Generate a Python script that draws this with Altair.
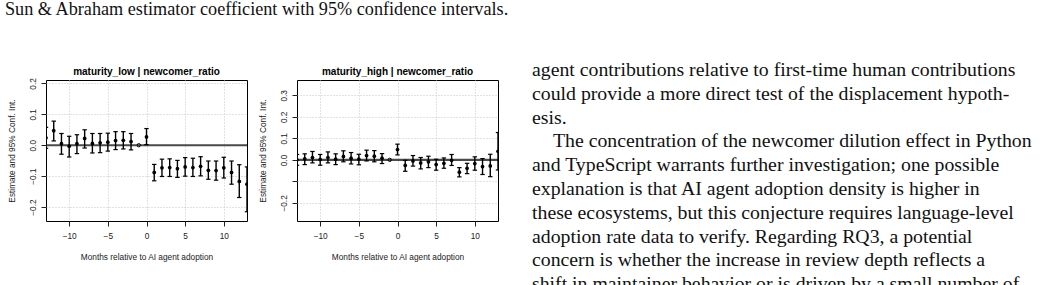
import altair as alt
import pandas as pd

# ---------------- data ----------------
months = [-13, -12, -11, -10, -9, -8, -7, -6, -5, -4, -3, -2,
          0, 1, 2, 3, 4, 5, 6, 7, 8, 9, 10, 11, 12, 13]
ref_month = -1
x_ticks = [-10, -5, 0, 5, 10]

low_est = [0.024, 0.047, 0.005, -0.003, 0.005, 0.022, 0.006, 0.008, 0.010, 0.015, 0.016, 0.012,
           0.027, -0.088, -0.073, -0.072, -0.076, -0.070, -0.072, -0.068, -0.081, -0.082, -0.073, -0.088, -0.117, -0.126]
low_lo = [-0.010, 0.014, -0.029, -0.038, -0.027, -0.009, -0.025, -0.024, -0.019, -0.014, -0.012, -0.015,
          0.002, -0.115, -0.101, -0.101, -0.104, -0.100, -0.101, -0.099, -0.110, -0.113, -0.106, -0.126, -0.169, -0.215]
low_hi = [0.058, 0.078, 0.038, 0.029, 0.034, 0.050, 0.038, 0.038, 0.039, 0.044, 0.044, 0.038,
          0.054, -0.062, -0.045, -0.044, -0.049, -0.040, -0.042, -0.037, -0.051, -0.051, -0.039, -0.051, -0.063, -0.070]

high_est = [0.000, 0.005, 0.011, 0.002, 0.011, 0.003, 0.016, 0.008, 0.003, 0.020, 0.017, 0.008,
            0.048, -0.026, -0.005, -0.014, -0.009, -0.022, -0.016, -0.002, -0.057, -0.039, -0.017, -0.031, -0.028, 0.040]
high_lo = [-0.025, -0.022, -0.014, -0.025, -0.014, -0.022, -0.009, -0.019, -0.023, -0.005, -0.009, -0.017,
           0.023, -0.053, -0.029, -0.042, -0.036, -0.048, -0.039, -0.026, -0.079, -0.064, -0.048, -0.068, -0.078, -0.047]
high_hi = [0.025, 0.028, 0.039, 0.025, 0.037, 0.028, 0.042, 0.034, 0.026, 0.045, 0.043, 0.029,
           0.073, -0.002, 0.020, 0.011, 0.017, 0.003, 0.009, 0.025, -0.036, -0.016, 0.014, 0.006, 0.026, 0.127]

low_yticks = [-0.2, -0.1, 0.0, 0.1, 0.2]
high_yticks = [-0.2, -0.1, 0.0, 0.1, 0.2, 0.3]
low_ydomain = [-0.245, 0.211]
high_ydomain = [-0.284, 0.371]

low_title = "maturity_low | newcomer_ratio"
high_title = "maturity_high | newcomer_ratio"
x_title = "Months relative to AI agent adoption"
y_title = "Estimate and 95% Conf. Int."

caption = "Sun & Abraham estimator coefficient with 95% confidence intervals."

body_lines = [
    "agent contributions relative to first-time human contributions",
    "could provide a more direct test of the displacement hypoth-",
    "esis.",
    "The concentration of the newcomer dilution effect in Python",
    "and TypeScript warrants further investigation; one possible",
    "explanation is that AI agent adoption density is higher in",
    "these ecosystems, but this conjecture requires language-level",
    "adoption rate data to verify. Regarding RQ3, a potential",
    "concern is whether the increase in review depth reflects a",
    "shift in maintainer behavior or is driven by a small number of",
]
para_start = [0, 0, 0, 1, 0, 0, 0, 0, 0, 0]

SANS = "Liberation Sans"
SERIF = "Liberation Serif"
INK = "#222222"


def panel(title, est, lo, hi, ydomain, yticks, hide_minus01, extra_layers):
    df = pd.DataFrame({"m": months, "est": est, "lo": lo, "hi": hi})
    ref = pd.DataFrame({"m": [ref_month], "est": [0.0]})
    zero = pd.DataFrame({"z": [0.0]})

    xs = alt.Scale(domain=[-13, 13], nice=False, zero=False)
    ys = alt.Scale(domain=ydomain, nice=False, zero=False)

    common = dict(grid=True, gridColor="#c4c4c4", gridDash=[1, 2], gridWidth=1,
                  domain=False, ticks=True, tickSize=5, tickColor=INK, tickWidth=1,
                  labelFont=SANS, labelFontSize=8.3, labelColor=INK,
                  labelFlush=False, labelOverlap=False,
                  titleFont=SANS, titleFontSize=8.3, titleFontWeight="normal", titleColor=INK)
    xax = alt.Axis(values=x_ticks, format="d", title=x_title, labelPadding=5,
                   titleY=31, titleBaseline="top", **common)
    ykw = dict(values=yticks, format=".1f", title=y_title, labelAngle=270, labelPadding=4,
               titleAngle=270, titleX=-34, titleY=70.5, titleAlign="center",
               titleBaseline="middle", **common)
    if hide_minus01:
        ykw["labelExpr"] = "abs(datum.value + 0.1) < 1e-6 ? '' : format(datum.value, '.1f')"
    yax = alt.Axis(**ykw)

    X = alt.X("m:Q", scale=xs, axis=xax)

    def Y(f):
        return alt.Y(f + ":Q", scale=ys, axis=yax)

    base = alt.Chart(df)
    zline = alt.Chart(zero).mark_rule(color="#4a4a4a", strokeWidth=2.2).encode(y=Y("z"))
    bars = base.mark_rule(color="black", strokeWidth=1.4, clip=True).encode(
        x=X, y=Y("lo"), y2="hi:Q")
    cap_lo = base.mark_rule(color="black", strokeWidth=1.2, clip=True, xOffset=-2.2, x2Offset=2.2).encode(
        x=X, x2="m:Q", y=Y("lo"))
    cap_hi = base.mark_rule(color="black", strokeWidth=1.2, clip=True, xOffset=-2.2, x2Offset=2.2).encode(
        x=X, x2="m:Q", y=Y("hi"))
    pts = base.mark_circle(color="black", size=14, opacity=1, clip=True).encode(x=X, y=Y("est"))
    refpt = alt.Chart(ref).mark_point(shape="circle", filled=False, color="black",
                                       size=11, strokeWidth=1, opacity=1).encode(x=X, y=Y("est"))
    ttl = alt.Chart(pd.DataFrame({"t": [title]})).mark_text(
        font=SANS, fontSize=10, fontWeight="bold", color="black",
        align="center", baseline="alphabetic").encode(
        text="t:N", x=alt.value(100.5), y=alt.value(-5))

    layers = [zline, bars, cap_lo, cap_hi, pts, refpt, ttl] + extra_layers
    return alt.layer(*layers).properties(width=201, height=141)


# caption sits above the left panel (outside its plot area)
cap = alt.Chart(pd.DataFrame({"t": [caption]})).mark_text(
    font=SERIF, fontSize=18.2, color="#111111", align="left", baseline="alphabetic").encode(
    text="t:N", x=alt.value(-41), y=alt.value(-65))

left = panel(low_title, low_est, low_lo, low_hi, low_ydomain, low_yticks, False, [cap])
right = panel(high_title, high_est, high_lo, high_hi, high_ydomain, high_yticks, True, [])

# ---------------- text column ----------------
txt_df = pd.DataFrame({"i": list(range(len(body_lines))), "t": body_lines, "ind": para_start})
line_y = alt.Scale(domain=[0, 9], range=[-4, 210.2])
ind_x = alt.Scale(domain=[0, 1], range=[-16, 5])

text_panel = alt.Chart(txt_df).mark_text(font=SERIF, fontSize=19.8, color="#111111",
                                         align="left", baseline="alphabetic").encode(
    x=alt.X("ind:Q", scale=ind_x, axis=None),
    y=alt.Y("i:Q", scale=line_y, axis=None),
    text="t:N").properties(width=484, height=141, view=alt.ViewBackground(stroke="transparent"))

chart = alt.hconcat(left, right, text_panel, spacing=50, bounds="flush").properties(
    padding={"left": 46, "top": 80, "right": 996, "bottom": 205},
    autosize=alt.AutoSizeParams(type="none"),
    background="white").configure_view(stroke="black", strokeWidth=1)

chart.save("out.html", embed_options={"renderer": "svg", "actions": False})
